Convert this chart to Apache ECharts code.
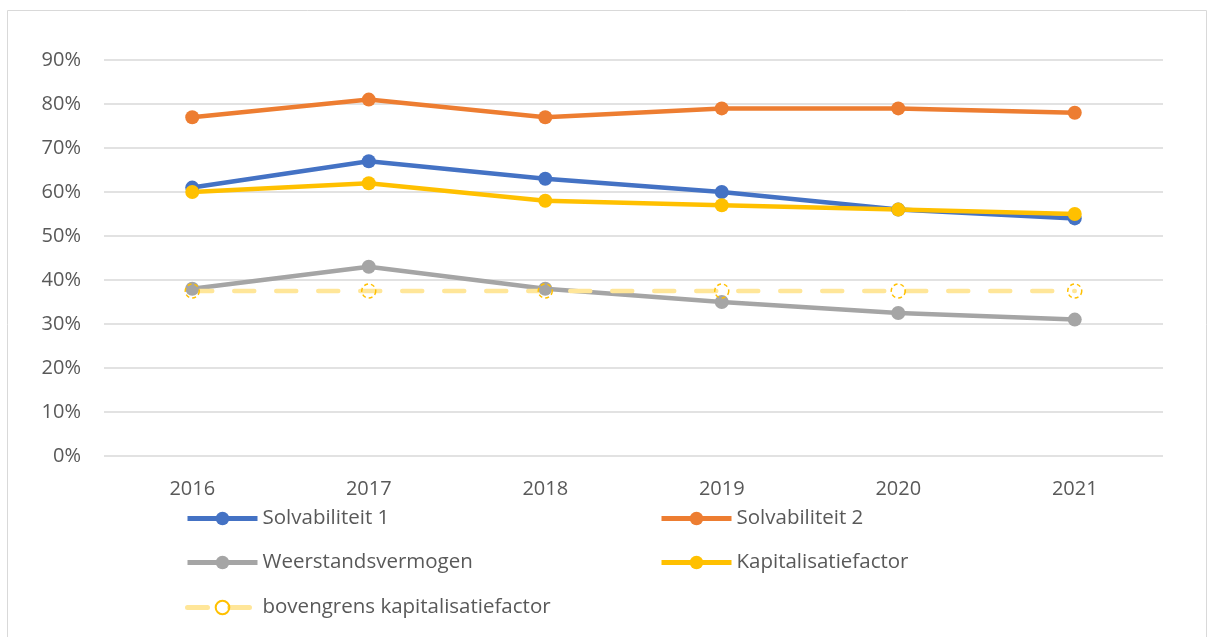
<!DOCTYPE html>
<html>
<head>
<meta charset="utf-8">
<script src="https://cdn.jsdelivr.net/npm/echarts@6/dist/echarts.min.js"></script>
<style>
  html, body { margin: 0; padding: 0; background: #fff; }
  #chart { width: 1208px; height: 637px; }
</style>
</head>
<body>
<div id="chart"></div>
<script>
  // jaren op de x-as
  var jaren = ['2016', '2017', '2018', '2019', '2020', '2021'];
  // waarden in procenten
  var solvabiliteit1 = [61, 67, 63, 60, 56, 54];
  var solvabiliteit2 = [77, 81, 77, 79, 79, 78];
  var weerstandsvermogen = [38, 43, 38, 35, 32.5, 31];
  var kapitalisatiefactor = [60, 62, 58, 57, 56, 55];
  var bovengrens = [37.5, 37.5, 37.5, 37.5, 37.5, 37.5];

  var textColor = '#595959';
  var font = '"Open Sans", sans-serif';

  function lijn(name, data, color) {
    return {
      name: name,
      type: 'line',
      data: data,
      symbol: 'circle',
      symbolSize: 14,
      lineStyle: { color: color, width: 4.5 },
      itemStyle: { color: color }
    };
  }

  function legenda(name, left, top) {
    return {
      data: [name],
      left: left,
      top: top,
      itemWidth: 70,
      itemHeight: 17,
      itemGap: 5,
      lineStyle: { width: 5 },
      textStyle: { color: textColor, fontSize: 20.5, fontFamily: font }
    };
  }

  var chart = echarts.init(document.getElementById('chart'));
  chart.setOption({
    animation: false,
    graphic: [{
      type: 'rect',
      shape: { x: 7.5, y: 10.5, width: 1199, height: 640 },
      style: { fill: 'none', stroke: '#D9D9D9', lineWidth: 1 },
      silent: true
    }],
    grid: { left: 104, right: 45, top: 60, bottom: 181 },
    legend: [
      legenda('Solvabiliteit 1', 180, 503),
      legenda('Solvabiliteit 2', 654, 503),
      legenda('Weerstandsvermogen', 180, 547),
      legenda('Kapitalisatiefactor', 654, 547),
      legenda('bovengrens kapitalisatiefactor', 180, 592)
    ],
    xAxis: {
      type: 'category',
      data: jaren,
      axisLine: { show: false },
      axisTick: { show: false },
      axisLabel: { color: textColor, fontSize: 20, fontFamily: font, margin: 23 }
    },
    yAxis: {
      type: 'value',
      min: 0,
      max: 90,
      interval: 10,
      axisLine: { show: false },
      axisTick: { show: false },
      axisLabel: { color: textColor, fontSize: 20, fontFamily: font, margin: 23, formatter: '{value}%' },
      splitLine: { lineStyle: { color: '#D9D9D9', width: 1.5 } }
    },
    series: [
      lijn('Solvabiliteit 1', solvabiliteit1, '#4472C4'),
      lijn('Solvabiliteit 2', solvabiliteit2, '#ED7D31'),
      lijn('Weerstandsvermogen', weerstandsvermogen, '#A5A5A5'),
      lijn('Kapitalisatiefactor', kapitalisatiefactor, '#FFC000'),
      {
        name: 'bovengrens kapitalisatiefactor',
        type: 'line',
        data: bovengrens,
        symbol: 'circle',
        symbolSize: 14,
        z: 3,
        lineStyle: { color: '#FFE699', width: 4.5, type: [20, 22], cap: 'round' },
        itemStyle: {
          color: 'rgba(255,255,255,0)',
          borderColor: '#FFC000',
          borderWidth: 1.5,
          borderType: [4, 3]
        }
      }
    ]
  });
</script>
</body>
</html>
